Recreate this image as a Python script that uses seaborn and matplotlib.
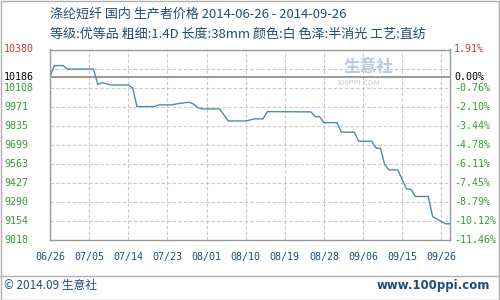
import numpy as np
import matplotlib
matplotlib.use("Agg")
import matplotlib.pyplot as plt
import matplotlib.transforms as mtransforms
import seaborn as sns

# ---------------- data ----------------
title1 = "涤纶短纤 国内 生产者价格 2014-06-26 - 2014-09-26"
title2 = "等级:优等品 粗细:1.4D 长度:38mm 颜色:白 色泽:半消光 工艺:直纺"

days = [0, 1, 3, 4, 10, 11, 12, 14, 18, 19, 20, 24, 25, 28, 29, 32, 33, 34, 35,
        39, 41, 45, 46, 47, 49, 50, 60, 61, 62, 63, 66, 67, 70, 71, 74, 75, 76,
        77, 78, 80, 82, 83, 84, 87, 88, 90, 91, 92]
prices = [10186, 10265, 10265, 10240, 10240, 10130, 10143, 10126, 10126, 10105,
          9972, 9972, 9984, 9984, 9991, 10003, 9990, 9965, 9955, 9955, 9869,
          9869, 9876, 9884, 9884, 9936, 9934, 9900, 9900, 9857, 9857, 9789,
          9789, 9724, 9724, 9674, 9674, 9555, 9519, 9519, 9382, 9382, 9329,
          9329, 9186, 9150, 9134, 9134]

x_tick_pos = [0, 9, 18, 27, 36, 45, 54, 63, 72, 81, 90]
x_tick_labels = ["06/26", "07/05", "07/14", "07/23", "08/01", "08/10", "08/19",
                 "08/28", "09/06", "09/15", "09/26"]

base_price = 10186
y_min, y_max = 9018, 10380
left_tick_vals = [10380, 10186, 10108, 9971, 9835, 9699, 9563, 9427, 9290, 9154, 9018]
left_tick_labels = ["10380", "10186", "10108", "9971", "9835", "9699", "9563",
                    "9427", "9290", "9154", "9018"]
right_tick_labels = ["1.91%", "0.00%", "-0.76%", "-2.10%", "-3.44%", "-4.78%",
                     "-6.11%", "-7.45%", "-8.79%", "-10.12%", "-11.46%"]

# ---------------- style ----------------
sns.set_style("white")
plt.rcParams['font.family'] = ['Noto Sans CJK SC', 'DejaVu Sans']

RED = "#c83c3c"
GREEN = "#3a9a3a"
BLUE_TXT = "#1d4e7a"
LINE = "#4b8cb4"
GRID = "#c8c8c8"
SPINE = "#9a9a9a"

fig = plt.figure(figsize=(5, 3), dpi=100)
W, H = 500, 300
ax = fig.add_axes([50 / W, 1 - 240 / H, 400 / W, (240 - 49.5) / H])

sns.lineplot(x=days, y=prices, ax=ax, color=LINE, linewidth=1.0)

ax.set_xlim(0, 92)
ax.set_ylim(y_min, y_max)

# grid
for v in np.linspace(y_min, y_max, 11)[1:-1]:
    ax.axhline(v, color=GRID, lw=0.8, ls=(0, (3, 2)), zorder=0)
for xp in x_tick_pos[1:]:
    ax.axvline(xp, color=GRID, lw=0.8, ls=(0, (3, 2)), zorder=0)
ax.axhline(base_price, color=SPINE, lw=1.4, zorder=1)

for s in ax.spines.values():
    s.set_color(SPINE)
    s.set_linewidth(1.0)
ax.set_xticks([])
ax.set_yticks([])
ax.set_xlabel("")
ax.set_ylabel("")

mono = dict(family="DejaVu Sans Mono", fontsize=7.2)
tr_left = mtransforms.blended_transform_factory(fig.transFigure, ax.transData)
for v, lab, pl in zip(left_tick_vals, left_tick_labels, right_tick_labels):
    if v == y_max:
        c = RED
    elif v == base_price:
        c = "black"
    else:
        c = GREEN
    fig.text(4 / W, v, lab, transform=tr_left, ha="left", va="center", color=c, **mono)
    fig.text(454 / W, v, pl, transform=tr_left, ha="left", va="center", color=c, **mono)

tr_x = mtransforms.blended_transform_factory(ax.transData, fig.transFigure)
for xp, lab in zip(x_tick_pos, x_tick_labels):
    fig.text(xp, 1 - 257 / H, lab, transform=tr_x, ha="center", va="center",
             color=BLUE_TXT, **mono)

# titles
fig.text(50 / W, 1 - 14 / H, title1, ha="left", va="center", fontsize=9.4, color=BLUE_TXT)
fig.text(50 / W, 1 - 34 / H, title2, ha="left", va="center", fontsize=9.4, color=BLUE_TXT)

# watermark
fig.text(368 / W, 1 - 67 / H, "生意社", ha="center", va="center", fontsize=12,
         fontweight="bold", color="#b9c9de", zorder=0)
fig.text(358 / W, 1 - 83 / H, "100PPI.COM", ha="center", va="center", fontsize=5.5,
         color="#c5ccd6", zorder=0)

# footer
fig.add_artist(plt.Line2D([0, 1], [1 - 276 / H, 1 - 276 / H], color="#b0b0b0",
                          lw=1, transform=fig.transFigure))
fig.add_artist(plt.Rectangle((0.5 / W, 0.5 / H), 1 - 1.5 / W, 1 - 1.5 / H, fill=False,
                             edgecolor="#b0b0b0", lw=1, transform=fig.transFigure))
fig.text(4 / W, 1 - 286 / H, "© 2014.09 生意社", ha="left", va="center",
         fontsize=8.5, color=BLUE_TXT)
fig.text(490 / W, 1 - 286 / H, "www.100ppi.com", ha="right", va="center",
         fontsize=8.5, fontweight="bold", color=BLUE_TXT, family="DejaVu Sans")

fig.savefig("out.png", dpi=100)
